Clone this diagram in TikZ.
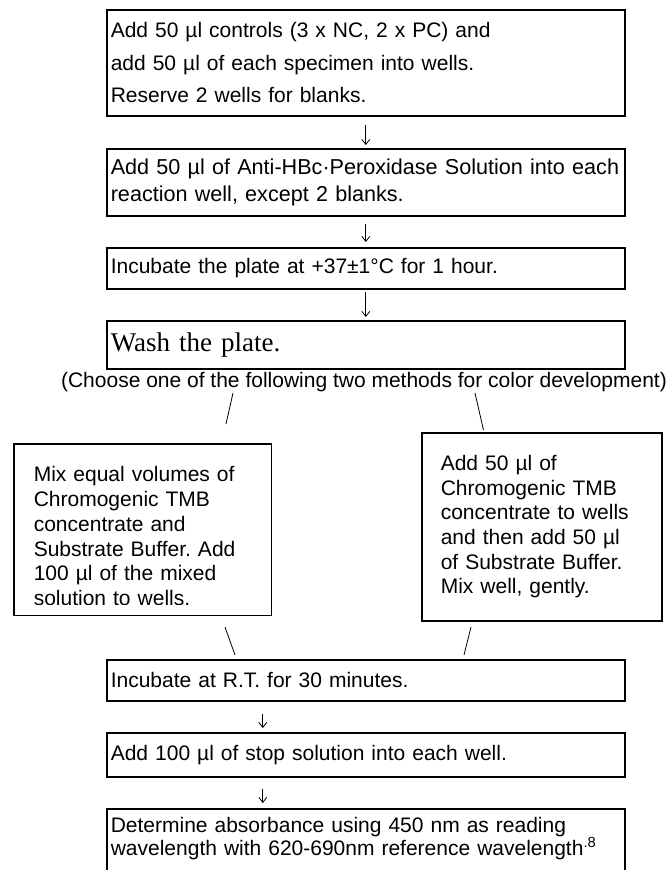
\documentclass[tikz,border=0pt]{standalone}
\usepackage{fontspec}
\setmainfont{Liberation Sans}
\newfontfamily\washfont{Liberation Serif}
\usetikzlibrary{arrows.meta}
\frenchspacing

\tikzset{
  stepbox/.style={draw, line width=1.6pt, rectangle, anchor=north west, align=left,
    inner xsep=4pt, inner ysep=0pt, text width=510pt, font=\fontsize{21}{24}\selectfont},
  sidebox/.style={stepbox, inner xsep=19pt, font=\fontsize{21}{24.7}\selectfont},
  flow/.style={-{Straight Barb[length=5pt,width=8pt]}, line width=0.8pt},
  slash/.style={line width=0.8pt}
}

\begin{document}
\begin{tikzpicture}[x=1pt,y=-1pt]
	\clip (0,0) rectangle (671,870);
	\fill[white] (0,0) rectangle (671,870);
	% main column
	\node[stepbox, minimum height=106pt, font=\fontsize{21}{32.5}\selectfont] (controls) at (106,9) {Add 50 µl controls (3 x NC, 2 x PC) and\\add 50 µl of each specimen into wells.\\Reserve 2 wells for blanks.};
	\node[stepbox, minimum height=67pt, font=\fontsize{21.6}{26.5}\selectfont] (conjugate) at (106,148) {Add 50 µl of Anti-HBc·Peroxidase Solution into each\\reaction well, except 2 blanks.};
	\node[stepbox, minimum height=41pt] (incubate) at (106,247) {Incubate the plate at +37±1°C for 1 hour.};
	\node[stepbox, minimum height=48pt, font=\washfont\fontsize{27}{30}\selectfont] (wash) at (106,320) {Wash the plate.};
	\node[font=\fontsize{21}{24}\selectfont] (choose) at (364,382) {(Choose one of the following two methods for color development)};
	% two methods
	\begin{scope}
		\clip (0,0) rectangle (671,604.5);
		\node[sidebox, draw=none, text width=218pt, minimum height=170pt, text height=28pt] (mixfirst) at (14,444) {Mix equal volumes of\\Chromogenic TMB\\concentrate and\\Substrate Buffer. Add\\100 µl of the mixed\\solution to wells.};
	\end{scope}
	\draw[line width=1.6pt] (mixfirst.north west) rectangle (mixfirst.south east);
	\node[sidebox, text width=202pt, minimum height=188pt] (inwell) at (421,432) {Add 50 µl of\\Chromogenic TMB\\concentrate to wells\\and then add 50 µl\\of Substrate Buffer.\\Mix well, gently.};
	% after color development
	\node[stepbox, minimum height=41pt] (roomtemp) at (106,659) {Incubate at R.T. for 30 minutes.};
	\node[stepbox, minimum height=44pt] (stop) at (106,732) {Add 100 µl of stop solution into each well.};
	\node[stepbox, inner ysep=8pt, text depth=40pt, font=\fontsize{21}{21}\selectfont] (read) at (106,808) {Determine absorbance using 450 nm as reading\\wavelength with 620-690nm reference wavelength\textsuperscript{.8}};

	\draw[flow, shorten <=8pt, shorten >=3pt] (controls) -- (conjugate);
	\draw[flow, shorten <=7pt, shorten >=5pt] (conjugate) -- (incubate);
	\draw[flow, shorten <=2pt, shorten >=3pt] (incubate) -- (wash);
	\draw[flow, shorten <=12pt, shorten >=4pt] ([xshift=-103pt]roomtemp.south) -- ([xshift=-103pt]stop.north);
	\draw[flow, shorten <=11pt, shorten >=5pt] ([xshift=-103pt]stop.south) -- ([xshift=-103pt]read.north);

	\coordinate (split a1) at (233,393);
	\coordinate (split a2) at (226,424);
	\coordinate (split b1) at (475,393);
	\coordinate (split b2) at (483.5,430);
	\coordinate (join a1) at (225,627);
	\coordinate (join a2) at (235,655);
	\coordinate (join b1) at (471,627);
	\coordinate (join b2) at (464,655);
	\draw[slash] (split a1) -- (split a2);
	\draw[slash] (split b1) -- (split b2);
	\draw[slash] (join a1) -- (join a2);
	\draw[slash] (join b1) -- (join b2);
\end{tikzpicture}
\end{document}
